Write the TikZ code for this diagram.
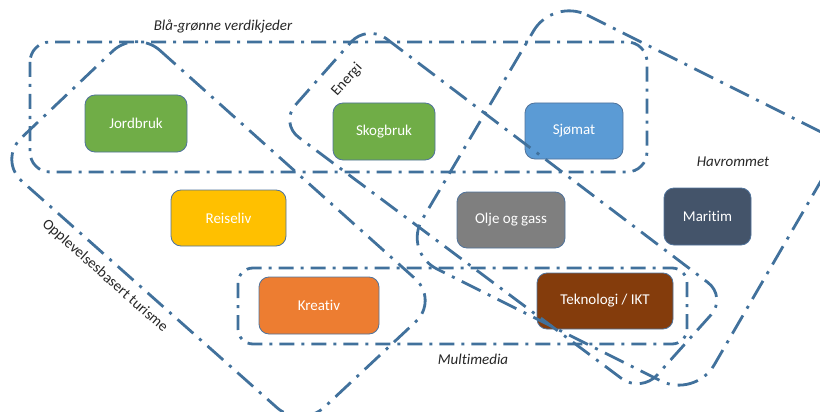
\documentclass[tikz,border=0pt]{standalone}
\usepackage{fontspec}
\setmainfont{Carlito}[Ligatures={NoCommon}]
\definecolor{frame}{RGB}{65,113,156}
\definecolor{boxline}{RGB}{80,115,155}
\definecolor{cgreen}{RGB}{112,173,71}
\definecolor{cblue}{RGB}{91,155,213}
\definecolor{cyellow}{RGB}{255,192,0}
\definecolor{cgray}{RGB}{127,127,127}
\definecolor{cnavy}{RGB}{68,84,106}
\definecolor{corange}{RGB}{237,125,49}
\definecolor{cbrown}{RGB}{132,60,12}
\begin{document}
\begin{tikzpicture}[x=1pt,y=-1pt,
  box/.style={draw=boxline, line width=0.8pt, rounded corners=10pt, inner sep=0pt,
    text=white, font=\fontsize{15}{18}\selectfont},
  grp/.style={draw=frame, line width=2.8pt, dash pattern=on 15pt off 7pt on 3pt off 7pt},
  tilt/.style={draw=frame, line width=2.8pt, dash pattern=on 21pt off 8pt on 3pt off 8pt},
  lbl/.style={font=\fontsize{15}{18}\selectfont\itshape, text=black!85, inner sep=0pt},
  ulbl/.style={font=\fontsize{15}{18}\selectfont, text=black!85, inner sep=0pt}]
\useasboundingbox (0,0) rectangle (820,412);
\clip (0,0) rectangle (820,412);
% boxes
\node[box, fill=cgreen, minimum width=102, minimum height=57] (jord) at (136,123.5) {Jordbruk};
\node[box, fill=cgreen, minimum width=102, minimum height=57] (skog) at (384,131.5) {Skogbruk};
\node[box, fill=cblue, minimum width=98, minimum height=56] (sjo) at (574,131) {Sjømat};
\node[box, fill=cyellow, minimum width=115, minimum height=56] (reise) at (228.5,218) {Reiseliv};
\node[box, fill=cgray, minimum width=108, minimum height=56] (olje) at (511,220) {Olje og gass};
\node[box, fill=cnavy, minimum width=87, minimum height=57] (mar) at (707.5,216.5) {Maritim};
\node[box, fill=corange, minimum width=120, minimum height=57] (krea) at (319,305.5) {Kreativ};
\node[box, fill=cbrown, minimum width=136, minimum height=56] (tek) at (605,301) {Teknologi / IKT};
% group frames
\draw[grp, rounded corners=20pt] (30,42) rectangle (647,172);
\draw[grp, rounded corners=15pt] (238,268) rectangle (687,344);
\draw[tilt, rounded corners=32pt] (136,29) -- (439,300) -- (301,429) -- (-2,160) -- cycle;
\draw[tilt, rounded corners=24pt] (367,24) -- (727,297) -- (641,393) -- (279.5,123) -- cycle;
\draw[tilt, rounded corners=38pt] (553,-2) [rounded corners=12pt] -- (843,143) [rounded corners=38pt] -- (695,398) -- (403,252) -- cycle;
% labels
\node[lbl] (lbg) at (223,26) {Blå-grønne verdikjeder};
\node[ulbl, rotate=48] (len) at (347,80) {Energi};
\node[lbl] (lhav) at (733,162) {Havrommet};
\node[lbl] (lmm) at (473,359) {Multimedia};
\node[ulbl, rotate=-41.6] (lopp) at (105,276) {Opplevelsesbasert turisme};
\end{tikzpicture}
\end{document}
